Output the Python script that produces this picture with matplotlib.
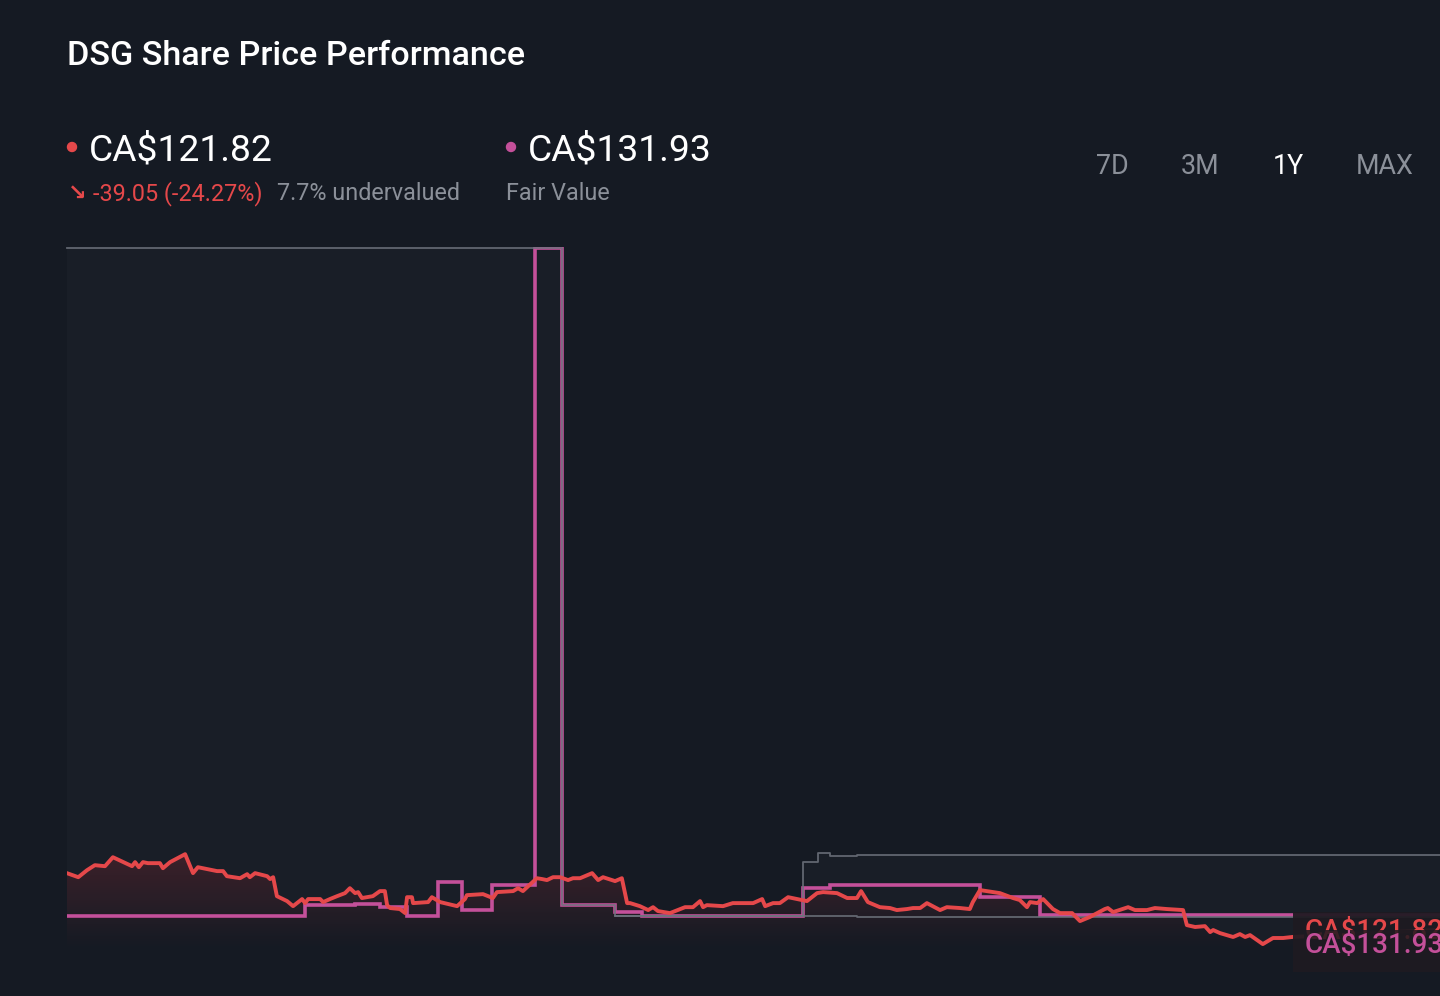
import numpy as np
import matplotlib
matplotlib.use('Agg')
import matplotlib.pyplot as plt
from matplotlib.patches import Ellipse, Rectangle, Polygon

W, H = 1440, 996
BG = '#151a23'
RED = '#e5484a'
PINK = '#c4509a'
GREY = '#6e737d'
TXT_GREY = '#8b9099'

# share price (CA$) by day of the 1Y window
price_days = [0, 3, 5.3, 7.4, 10.1, 12.2, 17.3, 18.1, 19.1, 20.2, 21.5, 24.7, 25.5, 27.4,
              31.4, 33.5, 34.8, 39.9, 41.5, 42.5, 46.0, 47.9, 48.6, 50.0, 53.2, 54.0, 54.8,
              55.8, 58.5, 60.1, 62.5, 63.3, 64.1, 67.3, 68.1, 69.9, 71.8, 73.9, 75.2, 76.6,
              77.4, 78.4, 81.3, 83.2, 84.5, 85.1, 85.9, 88.5, 89.9, 90.4, 91.7, 92.0, 96.0,
              97.0, 99.2, 103.7, 105.8, 106.3, 110.6, 113.2, 114.3, 118.6, 119.9, 121.2,
              124.9, 126.3, 127.6, 129.2, 131.1, 133.2, 134.5, 136.4, 139.6, 141.2, 142.5,
              145.7, 147.5, 148.9, 149.7, 152.3, 154.5, 155.8, 157.1, 160.3, 163.0, 164.3,
              166.4, 168.3, 169.1, 170.1, 174.4, 177.0, 182.4, 184.8, 185.6, 187.7, 189.5,
              191.7, 195.4, 196.7, 199.4, 201.0, 204.7, 207.4, 210.0, 211.1, 212.9, 216.1,
              218.8, 220.6, 223.3, 224.9, 226.8, 228.6, 232.1, 233.9, 237.4, 240.0, 240.8,
              242.7, 248.0, 251.5, 253.3, 255.2, 256.0, 257.9, 259.5, 262.1, 264.0, 267.2,
              269.3, 271.9, 275.9, 276.7, 278.1, 282.1, 283.9, 287.1, 289.2, 292.4, 296.7,
              297.7, 299.9, 302.5, 303.9, 304.7, 306.5, 310.0, 311.8, 313.2, 314.5, 317.9,
              320.6, 323.3, 325.7, 365]
price_vals = [160.87, 158.1, 162.9, 166.4, 165.7, 171.9, 165.7, 168.5, 165.0, 168.5, 167.8,
              167.8, 164.3, 168.5, 174.0, 160.9, 165.0, 162.3, 162.3, 158.8, 157.4, 160.2,
              158.1, 160.9, 158.8, 156.8, 158.1, 145.0, 141.6, 138.1, 143.0, 140.2, 143.0,
              143.0, 140.9, 143.0, 145.0, 147.1, 150.5, 147.1, 147.8, 143.7, 145.0, 148.5,
              148.5, 138.8, 136.8, 136.1, 133.3, 144.3, 144.3, 140.2, 140.9, 144.3, 140.9,
              138.1, 143.0, 145.7, 146.4, 143.7, 147.8, 148.5, 150.5, 148.5, 157.4, 156.8,
              156.1, 158.1, 158.1, 156.1, 157.4, 157.4, 160.9, 156.1, 158.1, 155.4, 157.4,
              140.2, 140.2, 138.1, 135.4, 137.4, 134.7, 133.3, 136.1, 137.4, 137.4, 141.6,
              137.4, 138.8, 138.1, 140.2, 140.2, 143.0, 138.1, 140.2, 140.2, 144.3, 142.3,
              141.6, 147.1, 147.8, 147.1, 143.7, 143.7, 148.5, 140.9, 137.4, 136.8, 135.4,
              136.1, 136.8, 136.8, 140.2, 135.4, 137.4, 136.8, 136.1, 140.9, 149.2, 147.1,
              143.7, 142.3, 137.4, 140.9, 140.2, 143.0, 136.1, 133.3, 133.3, 127.8, 130.6,
              136.1, 136.8, 134.0, 137.4, 135.4, 135.4, 136.8, 136.1, 135.4, 125.0, 123.7,
              124.3, 120.2, 121.6, 119.5, 116.8, 118.8, 116.8, 118.1, 111.9, 116.1, 116.1,
              116.8, 121.82]

# fair value (step)
fv_days = [0, 63.3, 76.6, 83.2, 90.4, 98.6, 105.0, 113.0, 124.4, 131.6, 145.7, 152.9,
           195.6, 202.8, 242.7, 258.7, 365]
fv_vals = [131.5, 138.8, 139.5, 137.4, 131.5, 154.7, 135.4, 152.6, 592.6, 138.8, 133.9,
           131.2, 150.5, 152.6, 144.3, 131.93, 131.93]

# fair value range (upper / lower bound)
hi_days = [0, 131.6, 145.7, 195.6, 199.6, 202.8, 210.0, 365]
hi_vals = [592.6, 138.8, 131.2, 168.5, 174.7, 172.6, 173.3, 173.3]
lo_days = [145.7, 210.0, 365]
lo_vals = [131.2, 130.6, 130.6]

last_price, fair_value = 121.82, 131.93
change, change_pct, underval = -39.05, -24.27, 7.7
periods = ['7D', '3M', '1Y', 'MAX']
active_period = '1Y'

plt.rcParams['font.family'] = ['Roboto', 'DejaVu Sans']

fig = plt.figure(figsize=(W / 100, H / 100), dpi=100, facecolor=BG)

def fx(x): return x / W
def fy(y): return 1 - y / H

YMIN, YMAX = 109.2, 593.3
ax = fig.add_axes([fx(67), fy(948), fx(1440) - fx(67), fy(247) - fy(948)])
ax.set_facecolor(BG)
ax.set_xlim(0, 365)
ax.set_ylim(YMIN, YMAX)
ax.axis('off')

# faint band under the fair value range
ax.fill_between(hi_days, hi_vals, YMIN, step='post', color='white', alpha=0.018, lw=0)

# gradient under the price line
grad = np.linspace(0, 1, 256).reshape(-1, 1)
cm = matplotlib.colors.LinearSegmentedColormap.from_list('g', [BG, '#42222b'])
im = ax.imshow(grad, extent=[0, 365, YMIN, 176], origin='lower', aspect='auto',
               cmap=cm, alpha=0.9, zorder=1)
poly = Polygon(list(zip(price_days, price_vals)) + [(365, YMIN), (0, YMIN)],
               closed=True, transform=ax.transData, facecolor='none', edgecolor='none')
ax.add_patch(poly)
im.set_clip_path(poly)

ax.plot(fv_days, fv_vals, drawstyle='steps-post', color=PINK, lw=2.6, zorder=3,
        solid_joinstyle='miter')
ax.plot(hi_days, hi_vals, drawstyle='steps-post', color=GREY, lw=1.3, alpha=0.85, zorder=4,
        clip_on=False)
ax.plot(lo_days, lo_vals, drawstyle='steps-post', color=GREY, lw=1.3, alpha=0.85, zorder=4)
ax.plot(price_days, price_vals, color=RED, lw=2.8, zorder=5, solid_joinstyle='round')

# end-of-line label box
fig.add_artist(Rectangle((fx(1293), fy(972)), fx(1440) - fx(1293), fy(912) - fy(972),
                         transform=fig.transFigure, facecolor='#1e1a21', edgecolor='none',
                         alpha=0.93, zorder=6))
fig.text(fx(1305), fy(931), f'CA${last_price:.2f}', color=RED, fontsize=20,
         fontweight='medium', va='center', ha='left', zorder=7)
fig.text(fx(1305), fy(945), f'CA${fair_value:.2f}', color=PINK, fontsize=20,
         fontweight='medium', va='center', ha='left', zorder=8,
         bbox=dict(facecolor='#1e1a21', edgecolor='none', pad=1, alpha=0.85))

# header
fig.text(fx(67), fy(56), 'DSG Share Price Performance', color='white', fontsize=24.6,
         fontweight='medium', va='center', ha='left')
fig.add_artist(Ellipse((fx(72), fy(147)), 9 / W, 9 / H, transform=fig.transFigure,
                       color=RED))
fig.add_artist(Ellipse((fx(511), fy(147)), 9 / W, 9 / H, transform=fig.transFigure,
                       color=PINK))
fig.text(fx(89), fy(150), f'CA${last_price:.2f}', color='white', fontsize=26.8,
         va='center', ha='left')
fig.text(fx(528), fy(150), f'CA${fair_value:.2f}', color='white', fontsize=26.8,
         va='center', ha='left')
fig.text(fx(68), fy(194), '\u2198', color=RED, fontsize=16, fontweight='bold',
         va='center', ha='left', family='DejaVu Sans')
fig.text(fx(93), fy(194), f'{change:.2f} ({change_pct:.2f}%)', color=RED, fontsize=16.8,
         va='center', ha='left')
fig.text(fx(277), fy(194), f'{underval}% undervalued', color=TXT_GREY, fontsize=16.8,
         va='center', ha='left')
fig.text(fx(506), fy(194), 'Fair Value', color=TXT_GREY, fontsize=16.8,
         va='center', ha='left')

for p, xc in zip(periods, [1112, 1200, 1288, 1385]):
    fig.text(fx(xc), fy(166), p, color='white' if p == active_period else TXT_GREY,
             fontsize=19.4, va='center', ha='center')

fig.savefig('out.png', dpi=100, facecolor=BG)
